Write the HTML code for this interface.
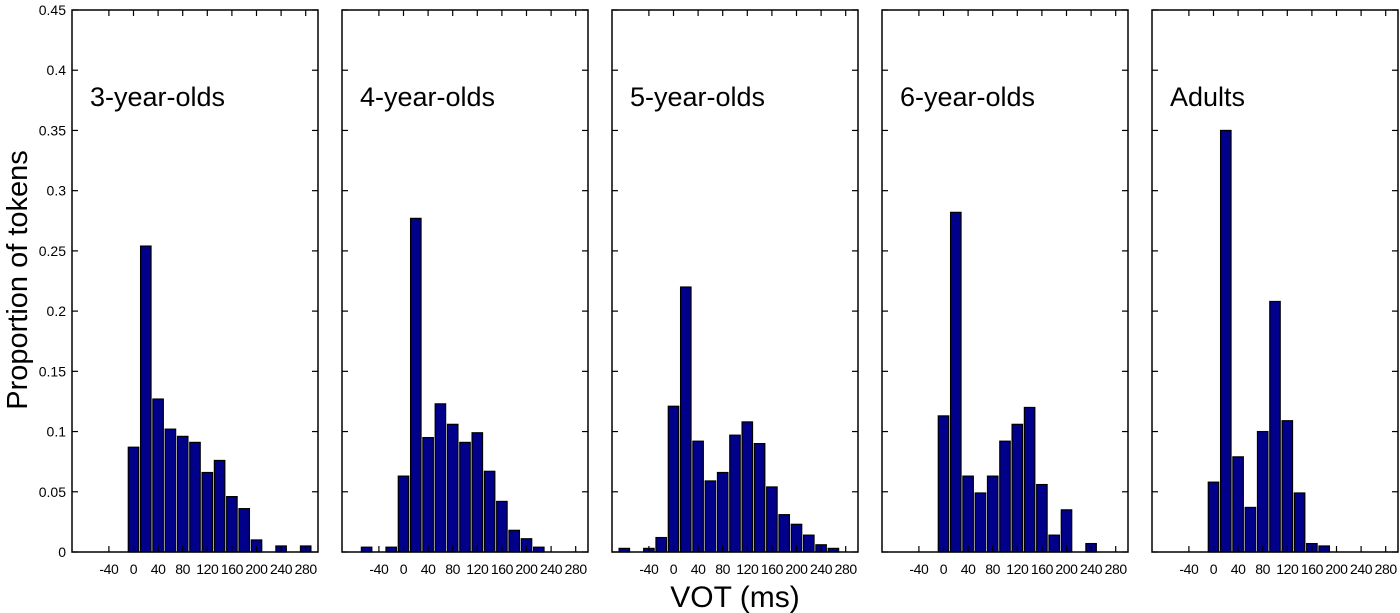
<!DOCTYPE html>
<html><head><meta charset="utf-8"><style>
html,body{margin:0;padding:0;background:#fff;}
svg{display:block;font-family:"Liberation Sans",Arial,sans-serif;}
</style></head><body>
<svg id="chart" width="1400" height="613" viewBox="0 0 1400 613">
<text x="0" y="0" transform="translate(27,280) rotate(-90)" text-anchor="middle" font-size="29">Proportion of tokens</text>
<text x="735" y="607" text-anchor="middle" font-size="30">VOT (ms)</text>
</svg>
<script>
const panelTitles = ["3-year-olds","4-year-olds","5-year-olds","6-year-olds","Adults"];
const bins3 = [0,20,40,60,80,100,120,140,160,180,200,240,280];
const vals3 = [0.087,0.254,0.127,0.102,0.096,0.091,0.066,0.076,0.046,0.036,0.010,0.005,0.005];
const bins4 = [-60,-20,0,20,40,60,80,100,120,140,160,180,200,220];
const vals4 = [0.004,0.004,0.063,0.277,0.095,0.123,0.106,0.091,0.099,0.067,0.042,0.018,0.011,0.004];
const bins5 = [-80,-40,-20,0,20,40,60,80,100,120,140,160,180,200,220,240,260];
const vals5 = [0.003,0.003,0.012,0.121,0.220,0.092,0.059,0.066,0.097,0.108,0.090,0.054,0.031,0.023,0.014,0.006,0.003];
const bins6 = [0,20,40,60,80,100,120,140,160,180,200,240];
const vals6 = [0.113,0.282,0.063,0.049,0.063,0.092,0.106,0.120,0.056,0.014,0.035,0.007];
const binsA = [0,20,40,60,80,100,120,140,160,180];
const valsA = [0.058,0.350,0.079,0.037,0.100,0.208,0.109,0.049,0.007,0.005];
const xTicks = [-40,0,40,80,120,160,200,240,280];
const yTicks = [0,0.05,0.1,0.15,0.2,0.25,0.3,0.35,0.4,0.45];
const yTickLabels = ["0","0.05","0.1","0.15","0.2","0.25","0.3","0.35","0.4","0.45"];

const allBins=[bins3,bins4,bins5,bins6,binsA];
const allVals=[vals3,vals4,vals5,vals6,valsA];
const NS="http://www.w3.org/2000/svg";
const svg=document.getElementById('chart');
const top0=10,bot=552,pw=246,xmin=-100,xmax=300,ymax=0.45;
function mk(t,a,p){const e=document.createElementNS(NS,t);for(const k in a)e.setAttribute(k,a[k]);(p||svg).appendChild(e);return e;}
function yS(v){return bot-(v/ymax)*(bot-top0);}
for(let p=0;p<5;p++){
  const L=72+p*270;
  const xS=v=>L+(v-xmin)/(xmax-xmin)*pw;
  const g=mk('g',{});
  
  
  const bw=(17/(xmax-xmin))*pw;
  allBins[p].forEach((b,i)=>{
    const v=allVals[p][i];
    const r=mk('rect',{x:xS(b)-bw/2,y:yS(v),width:bw,height:bot-yS(v),fill:'#00008b',stroke:'#000','stroke-width':1.2},g);
    
    
  });
  const fr=mk('rect',{x:L,y:top0,width:pw,height:bot-top0,fill:'none',stroke:'#000','stroke-width':1.5},g);
  
  
  xTicks.forEach(t=>{
    const x=xS(t);
    mk('line',{x1:x,x2:x,y1:top0,y2:top0+6,stroke:'#000','stroke-width':1.2},g);
    mk('line',{x1:x,x2:x,y1:bot,y2:bot-6,stroke:'#000','stroke-width':1.2},g);
    const tl=mk('text',{x:x,y:bot+22,'text-anchor':'middle','font-size':14,'letter-spacing':'-0.4',fill:'#000'},g);
    tl.textContent=t;
    
    
  });
  yTicks.forEach((t,i)=>{
    const y=yS(t);
    mk('line',{x1:L,x2:L+6,y1:y,y2:y,stroke:'#000','stroke-width':1.2},g);
    mk('line',{x1:L+pw,x2:L+pw-6,y1:y,y2:y,stroke:'#000','stroke-width':1.2},g);
    if(p===0){
      const yl=mk('text',{x:L-6,y:y+5,'text-anchor':'end','font-size':14,fill:'#000'},g);
      yl.textContent=yTickLabels[i];
      
      
    }
  });
  const tt=mk('text',{x:L+18,y:106,'font-size':27,fill:'#000'},g);
  tt.textContent=panelTitles[p];
  
  
}
</script>
</body></html>
